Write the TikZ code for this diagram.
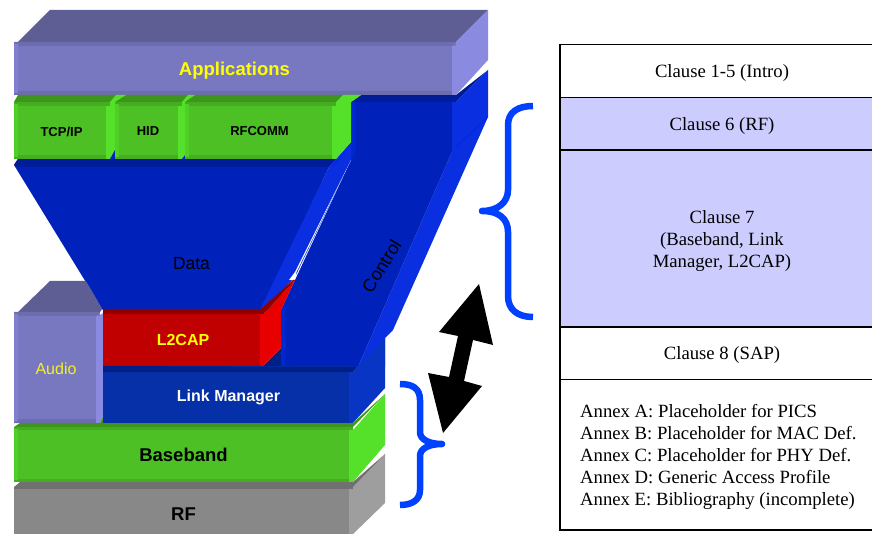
\documentclass[tikz,border=0pt]{standalone}
\usepackage{fontspec}
\setmainfont{Liberation Sans}
\newfontfamily\serifface{Liberation Serif}
\definecolor{appface}{HTML}{7878C0}
\definecolor{apptop}{HTML}{5E5E94}
\definecolor{appside}{HTML}{8A8AE0}
\definecolor{appedge}{HTML}{6C6CAE}
\definecolor{appleft}{HTML}{8080D0}
\definecolor{grface}{HTML}{4CC024}
\definecolor{grtop}{HTML}{3D951D}
\definecolor{grside}{HTML}{55E02A}
\definecolor{gredge}{HTML}{45AE20}
\definecolor{grleft}{HTML}{50D027}
\definecolor{blface}{HTML}{0022BB}
\definecolor{bltop}{HTML}{001C96}
\definecolor{blside}{HTML}{0A2FE0}
\definecolor{blstrip}{HTML}{0028D0}
\definecolor{lmface}{HTML}{0530A8}
\definecolor{lmtop}{HTML}{002088}
\definecolor{lmside}{HTML}{0835C4}
\definecolor{rdface}{HTML}{C00000}
\definecolor{rdtop}{HTML}{900000}
\definecolor{rdside}{HTML}{E80000}
\definecolor{gyface}{HTML}{888888}
\definecolor{gytop}{HTML}{707070}
\definecolor{gyside}{HTML}{9E9E9E}
\definecolor{bracecol}{HTML}{0040FF}
\definecolor{cellcol}{HTML}{CCCCFF}
\definecolor{labyellow}{HTML}{FFFF00}
\definecolor{audioyellow}{HTML}{F4F020}
\tikzset{
  flat/.style={fill=#1,draw=none},
  boldlab/.style={font=\fontsize{#1}{#1}\selectfont\bfseries,inner sep=0pt,anchor=center},
  plainlab/.style={font=\fontsize{#1}{#1}\selectfont,inner sep=0pt,anchor=center},
  cell/.style={draw=black,line width=1.5pt,fill=#1},
  celltext/.style={font=\serifface\fontsize{18.7}{22}\selectfont,inner sep=0pt,align=center,anchor=center},
  bracket/.style={draw=bracecol,line width=6.5pt,line cap=butt,line join=round},
}
\begin{document}
\begin{tikzpicture}[x=1pt,y=-1pt]
\useasboundingbox (0,0) rectangle (872,534);
\clip (0,0) rectangle (872,534);
% ---- Control column
\path[flat=bltop] (351,102)--(361,95)--(456,95)--(488,70)--(456,102)--cycle;
\path[flat=blside] (452,102)--(456,102)--(488,70)--(488,117)--(393,330)--(385,338)--(385,367)--(358,367)--(452,152)--cycle;
\path[flat=blface] (351,102)--(452,102)--(452,152)--(358,367)--(281,367)--(281,310)--(295,280)--(351,160)--cycle;
\path[flat=blstrip] (351,102)--(355,102)--(355,152)--(351,160)--cycle;
\path[flat=blstrip] (281,310)--(285,302)--(285,367)--(281,367)--cycle;
\draw[blue!45!blside,line width=0.4pt] (456,147)--(488,117);
% ---- Data funnel
\path[flat=blface] (14,165)--(18,159)--(336,159)--(329,167)--(262,310)--(103,310)--cycle;
\path[flat=bltop] (18,159)--(336,159)--(329,167)--(18,167)--(14,165)--cycle;
\path[flat=blside] (336,159)--(351,142)--(351,160)--(295,277)--(264,310)--(260,310)--(329,167)--cycle;
\draw[blue!45!blside,line width=0.4pt] (332,167)--(351,145);
\path[fill=white] (351,160)--(296.5,272)--(295,280)--(289,280)--(295,272)--cycle;
% ---- Applications
\path[flat=apptop] (18,42)--(50,10)--(488,10)--(456,42)--cycle;
\path[flat=appside] (456,42)--(488,10)--(488,60)--(456,95)--cycle;
\path[flat=appface] (14,42) rectangle (456,95);
\path[flat=appedge] (14,42)--(18,42)--(456,42)--(452,46)--(18,46)--cycle;
\path[flat=appedge] (14,95)--(18,91)--(452,91)--(456,95)--cycle;
\path[flat=appleft] (14,44) rectangle (18,93);
\path[flat=appside] (452,46) rectangle (456,95);
\node[boldlab=18.5,text=labyellow] (apps) at (234.5,70.5) {Applications};
% ---- Upper green row
\path[flat=grtop] (14,102)--(18,95)--(361,95)--(351,102)--cycle;
\path[flat=grside] (110,102)--(116,95)--(126,95)--(115,102)--(115,159)--(110,159)--cycle;
\path[flat=grside] (182,102)--(188,95)--(195,95)--(185,102)--(185,155)--(182,159)--cycle;
\path[flat=grside] (336,102)--(343,95)--(361,95)--(351,102)--(351,142)--(336,159)--cycle;
\path[flat=blface] (110,159)--(115,150)--(115,159)--cycle;
\path[flat=blface] (182,159)--(185,155)--(185,159)--cycle;
\foreach \xa/\xb in {14/110,115/182,185/336}{
  \path[flat=grface] (\xa,102) rectangle (\xb,159);
  \path[flat=gredge] (\xa,102) rectangle (\xb,106);
  \path[flat=gredge] (\xa,155) rectangle (\xb,159);
  \path[flat=grleft] (\xa,104) rectangle (\xa+4,157);
  \path[flat=grside] (\xb-4,106) rectangle (\xb,159);
}
\node[boldlab=13] (tcp) at (61.5,132) {TCP/IP};
\node[boldlab=13] (hid) at (148,131.5) {HID};
\node[boldlab=13] (rfc) at (259.5,131.5) {RFCOMM};
% ---- Audio
\path[flat=apptop] (18,312)--(50,281)--(86,281)--(103,308)--(100,312)--cycle;
\path[flat=blface] (80,270)--(103,310)--(120,300)--(120,270)--cycle;
\path[flat=appface] (14,312) rectangle (100,423);
\path[flat=appedge] (14,312)--(100,312)--(96,316)--(18,316)--cycle;
\path[flat=appedge] (14,423)--(18,419)--(96,419)--(100,423)--cycle;
\path[flat=appleft] (14,314) rectangle (18,421);
\path[flat=appside] (96,316) rectangle (100,423);
\path[flat=appside] (100,315)--(110,309)--(103,314)--(103,366)--(110,366)--(103,371)--(103,417)--(100,423)--cycle;
\path[flat=grtop] (100,423)--(103,417)--(103,423)--cycle;
\node[plainlab=16,text=audioyellow] (audio) at (56,369) {Audio};
% ---- L2CAP
\path[flat=lmtop] (264,365)--(281,348)--(281,367)--(264,367)--cycle;
\path[flat=rdside] (264,314)--(295,280)--(281,310)--(281,348)--(264,365)--cycle;
\path[flat=rdtop] (103,309)--(261,309)--(293,280)--(295,280)--(264,314)--(103,314)--cycle;
\path[flat=rdface] (103,314) rectangle (260,366);
\path[flat=rdside] (260,314) rectangle (264,366);
\node[boldlab=16,text=labyellow] (l2cap) at (183,340) {L2CAP};
% ---- Link Manager
\path[flat=lmside] (353,372)--(357,367)--(385,338)--(385,388)--(353,423)--cycle;
\path[flat=lmface] (103,366) rectangle (353,423);
\path[flat=lmtop] (103,366)--(357,367)--(353,372)--(103,372)--cycle;
\path[flat=lmside] (349,372) rectangle (353,423);
\node[boldlab=16,text=white] (lm) at (228.5,397.5) {Link Manager};
% ---- Baseband
\path[flat=grtop] (14,427)--(20,423)--(353,423)--(385,394)--(353,427)--cycle;
\path[flat=grside] (353,430)--(385,394)--(385,445)--(353,482)--cycle;
\path[flat=grface] (14,427) rectangle (353,482);
\path[flat=gredge] (14,427) rectangle (353,430);
\path[flat=gredge] (14,479) rectangle (353,482);
\path[flat=grleft] (14,429) rectangle (18,480);
\path[flat=grside] (349,430) rectangle (353,482);
\node[boldlab=18.5] (bb) at (183.5,455) {Baseband};
% ---- RF
\path[flat=gytop] (14,487)--(20,482)--(353,482)--(385,454)--(353,489)--(14,489)--cycle;
\path[flat=gyside] (353,487)--(385,454)--(385,503)--(353,534)--cycle;
\path[flat=gyface] (14,489) rectangle (353,534);
\path[flat=gyside] (349,489) rectangle (353,534);
\node[boldlab=18.5] (rf) at (183.5,514) {RF};
% ---- Control and Data labels
\node[plainlab=17.5] (data) at (191.5,264) {Data};
\node[plainlab=18,rotate=58] (ctrl) at (381.5,266) {Control};
% ---- Braces
\coordinate (ba1) at (533,106);
\coordinate (ba2) at (482,211);
\coordinate (ba3) at (533,317);
\draw[bracket] (ba1) .. controls (518,106) and (508,112) .. (508,125) -- (508,190)
  .. controls (508,202) and (498,211) .. (ba2)
  .. controls (498,211) and (508,218) .. (508,232) -- (508,296)
  .. controls (508,310) and (518,317) .. (ba3);
\coordinate (bb1) at (400,384);
\coordinate (bb2) at (442,444);
\coordinate (bb3) at (400,505);
\draw[bracket] (bb1) .. controls (412,384) and (420,388) .. (420,400) -- (420,432)
  .. controls (420,440) and (430,444) .. (bb2)
  .. controls (430,444) and (420,448) .. (420,456) -- (420,490)
  .. controls (420,500) and (412,505) .. (bb3);
\fill[bracecol] (bb2) circle (3pt);
\fill[bracecol] (ba2) circle (3pt);
% ---- Double arrow
\path[fill=black] (479,284)--(493,345)--(473,340)--(464,381)--(482,386)--(443,433)--(428,373)--(449,377)--(458,336)--(439,332)--cycle;
% ---- Table
\node[cell=white,minimum width=316pt,minimum height=53pt,inner sep=0pt,anchor=north west] (c1) at (559,44) {};
\node[cell=cellcol,minimum width=316pt,minimum height=52.5pt,inner sep=0pt,anchor=north west] (c2) at (559,97) {};
\node[cell=cellcol,minimum width=316pt,minimum height=176.5pt,inner sep=0pt,anchor=north west] (c3) at (559,149.5) {};
\node[cell=white,minimum width=316pt,minimum height=52.5pt,inner sep=0pt,anchor=north west] (c4) at (559,326) {};
\node[cell=white,minimum width=316pt,minimum height=150.5pt,inner sep=0pt,anchor=north west] (c5) at (559,378.5) {};
\node[celltext] (t1) at (722,73) {Clause 1-5 (Intro)};
\node[celltext] (t2) at (722,126) {Clause 6 (RF)};
\node[celltext] (t3) at (722,241) {Clause 7\\(Baseband, Link\\Manager, L2CAP)};
\node[celltext] (t4) at (722,355) {Clause 8 (SAP)};
\node[celltext,align=left,anchor=west] (t5) at (580,456.5) {Annex A: Placeholder for PICS\\Annex B: Placeholder for MAC Def.\\Annex C: Placeholder for PHY Def.\\Annex D: Generic Access Profile\\Annex E: Bibliography (incomplete)};
\end{tikzpicture}
\end{document}
